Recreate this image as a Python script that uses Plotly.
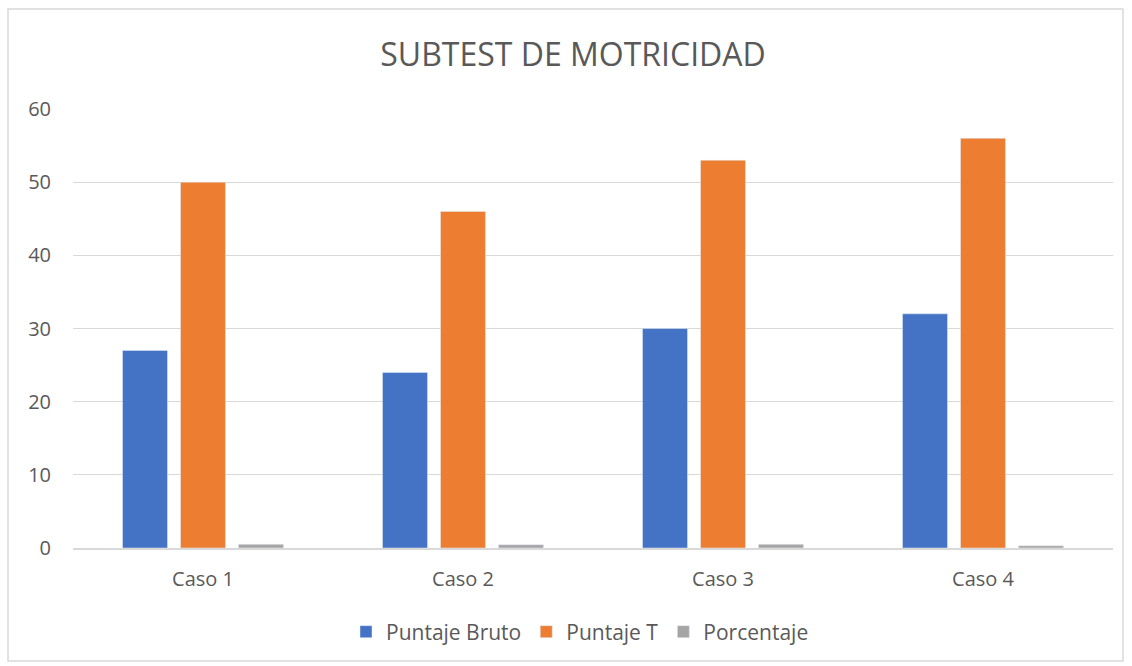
import plotly.graph_objects as go

categories = ["Caso 1", "Caso 2", "Caso 3", "Caso 4"]
puntaje_bruto = [27, 24, 30, 32]
puntaje_t = [50, 46, 53, 56]
porcentaje = [0.5, 0.45, 0.5, 0.3]

L, R, T, B = 73, 19, 109, 118
W, H = 1132, 666
pw, ph = W - L - R, H - T - B

def px(x):
    return (x - L) / pw

def py(y):
    return (H - B - y) / ph

fig = go.Figure()
fig.add_bar(x=categories, y=puntaje_bruto, name="Puntaje Bruto", marker_color="#4472C4")
fig.add_bar(x=categories, y=puntaje_t, name="Puntaje T", marker_color="#ED7D31")
fig.add_bar(x=categories, y=porcentaje, name="Porcentaje", marker_color="#A5A5A5")

font = "Open Sans, Liberation Sans, sans-serif"
fig.update_layout(
    width=W, height=H,
    margin=dict(l=L, r=R, t=T, b=B),
    paper_bgcolor="white", plot_bgcolor="white",
    barmode="group", bargap=0.331, bargroupgap=0.224,
    font=dict(family=font, color="#595959", size=20),
    title=dict(text="SUBTEST DE MOTRICIDAD", xref="container", x=573 / W, xanchor="center",
               y=1 - 55 / H, yanchor="middle",
               font=dict(size=32, color="#595959", family=font)),
    legend=dict(orientation="h", x=px(580), xanchor="center", y=py(632), yanchor="middle",
                font=dict(size=21, color="#595959"), traceorder="normal", itemwidth=30),
    xaxis=dict(showgrid=False, showline=True, linecolor="#d9d9d9", linewidth=1.5,
               ticks="", ticklabelstandoff=12, tickfont=dict(size=20, color="#595959")),
    yaxis=dict(range=[0, 60], dtick=10, showgrid=True, gridcolor="#d9d9d9", gridwidth=1,
               zeroline=False, ticks="", ticklen=0, ticklabelstandoff=21,
               tickfont=dict(size=20, color="#595959")),
    shapes=[dict(type="rect", xref="paper", yref="paper",
                 x0=px(8), x1=px(1123), y0=py(661), y1=py(9),
                 line=dict(color="#d9d9d9", width=1.5), fillcolor="rgba(0,0,0,0)", layer="below")],
)

fig.write_html("out.html", config={"displayModeBar": False},
               post_script="document.body.style.margin='0';document.body.style.padding='0';")
